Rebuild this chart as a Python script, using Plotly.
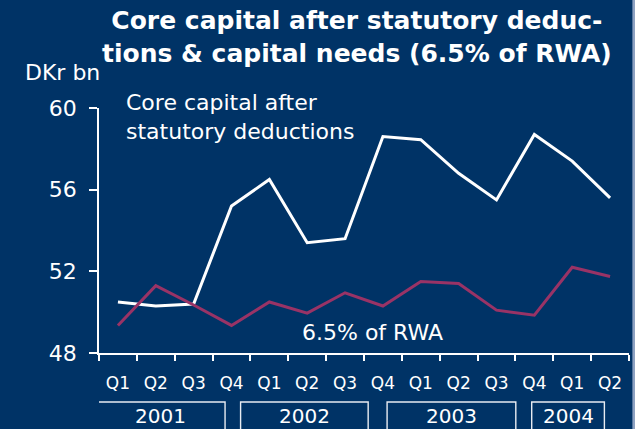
import plotly.graph_objects as go

quarters = ["Q1", "Q2", "Q3", "Q4", "Q1", "Q2", "Q3", "Q4", "Q1", "Q2", "Q3", "Q4", "Q1", "Q2"]
years = ["2001", "2002", "2003", "2004"]
core_capital = [50.5, 50.3, 50.4, 55.2, 56.5, 53.4, 53.6, 58.6, 58.45, 56.8, 55.5, 58.7, 57.4, 55.6]
capital_needs = [49.35, 51.3, 50.35, 49.35, 50.5, 49.95, 50.95, 50.3, 51.5, 51.4, 50.1, 49.85, 52.2, 51.75]
y_ticks = [48, 52, 56, 60]

BG = "#003366"
RED = "#993366"
FONT = "DejaVu Sans"

x = list(range(len(quarters)))

fig = go.Figure()
fig.add_trace(go.Scatter(x=x, y=core_capital, mode="lines",
                         line=dict(color="white", width=3), showlegend=False))
fig.add_trace(go.Scatter(x=x, y=capital_needs, mode="lines",
                         line=dict(color=RED, width=3), showlegend=False))

# year boxes (decorative frames, in x data units)
year_box_spans = [(-0.56, 2.83), (3.24, 6.61), (7.11, 10.51), (10.93, 12.85)]
for yr, (x0, x1) in zip(years, year_box_spans):
    fig.add_shape(type="rect", xref="x", yref="paper", x0=x0, x1=x1,
                  y0=-0.36, y1=-0.2, line=dict(color="#e8ecf2", width=1.4))
    fig.add_annotation(x=(x0 + x1) / 2, y=-0.258, xref="x", yref="paper",
                       text=yr, showarrow=False, yanchor="middle",
                       font=dict(family=FONT, size=20, color="white"))

fig.add_annotation(x=0.487, y=1.29, xref="paper", yref="paper",
                   text="<b>Core capital after statutory deduc-<br>tions & capital needs (6.5% of RWA)</b>",
                   showarrow=False, xanchor="center", yanchor="middle", align="center",
                   font=dict(family=FONT, size=25, color="white"))
fig.add_annotation(x=0.005, y=1.143, xref="paper", yref="paper", text="DKr bn",
                   showarrow=False, xanchor="right", yanchor="middle",
                   font=dict(family=FONT, size=22, color="white"))
fig.add_annotation(x=0.047, y=0.965, xref="paper", yref="paper",
                   text="Core capital after<br>statutory deductions",
                   showarrow=False, xanchor="left", yanchor="middle", align="left",
                   font=dict(family=FONT, size=22, color="white"))
fig.add_annotation(x=0.516, y=0.083, xref="paper", yref="paper", text="6.5% of RWA",
                   showarrow=False, xanchor="center", yanchor="middle",
                   font=dict(family=FONT, size=22, color="white"))

# thin light strip at right edge
fig.add_shape(type="rect", xref="paper", yref="paper", x0=1.0064, x1=1.02,
              y0=-0.4, y1=1.5, fillcolor="#8ea2c2", line=dict(width=0), layer="below")

fig.update_layout(
    width=635, height=429,
    paper_bgcolor=BG, plot_bgcolor=BG,
    margin=dict(l=99, r=6, t=108, b=76, autoexpand=False),
    xaxis=dict(range=[-0.5, 13.5], tickmode="array", tickvals=x, ticktext=quarters,
               ticks="", showgrid=False, zeroline=False, automargin=False,
               showline=True, linecolor="white", linewidth=1.5,
               tickfont=dict(family=FONT, size=17, color="white"),
               ticklabelstandoff=14,
               minor=dict(tick0=-0.5, dtick=1, ticks="outside", ticklen=6,
                          tickcolor="white", tickwidth=1.5, showgrid=False)),
    yaxis=dict(range=[48, 60], tickmode="array", tickvals=y_ticks,
               ticks="outside", ticklen=8, tickcolor="white", tickwidth=1.5,
               showgrid=False, zeroline=False, automargin=False,
               showline=True, linecolor="white", linewidth=1.5,
               tickfont=dict(family=FONT, size=22, color="white"),
               ticklabelstandoff=8),
)

fig.write_html("out.html", config={"displayModeBar": False},
               post_script="document.body.style.margin='0';document.body.style.background='%s';" % BG)
